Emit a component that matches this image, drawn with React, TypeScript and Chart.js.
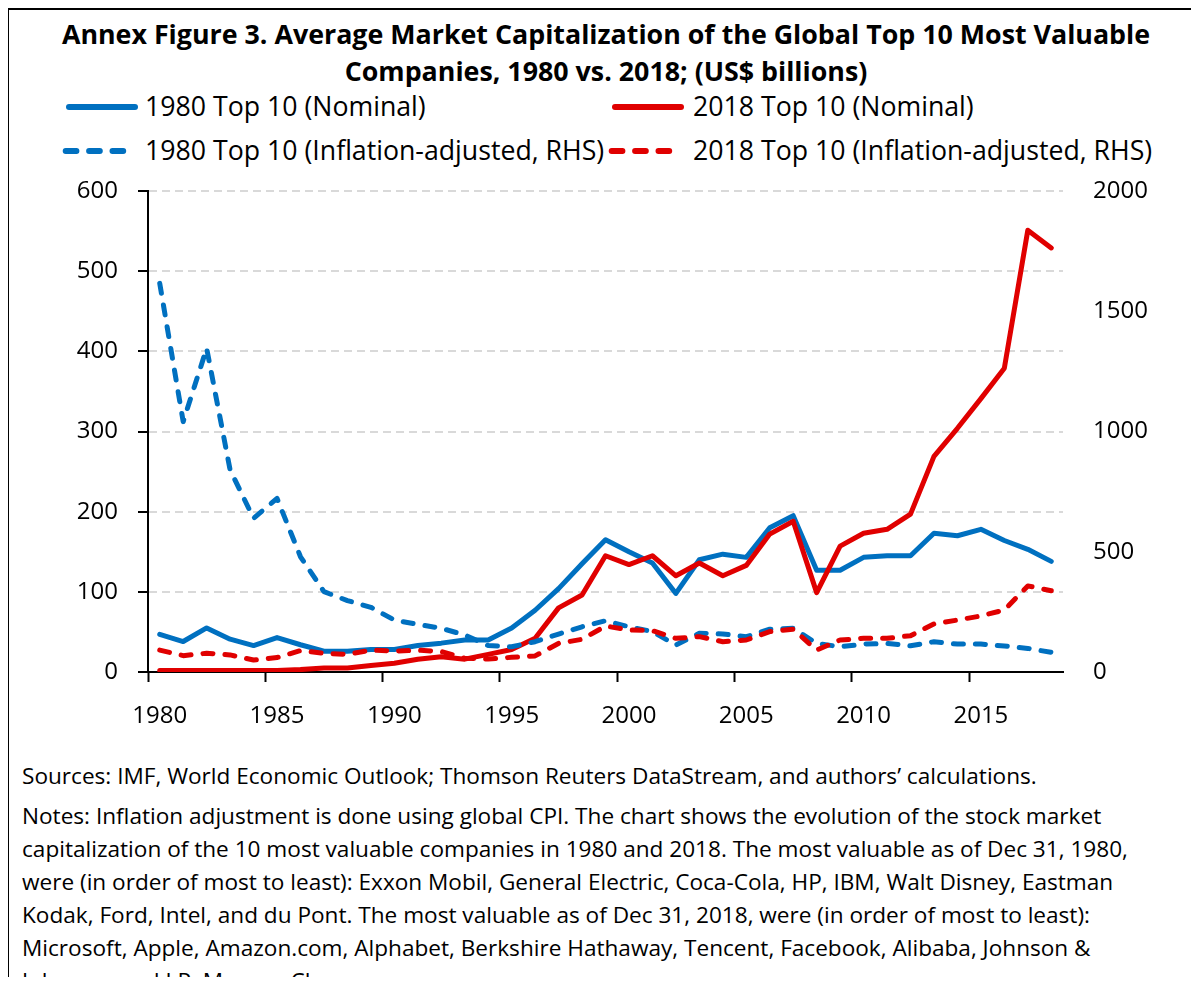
import React, { useEffect, useRef } from "react";
import { Chart, registerables } from "chart.js";

Chart.register(...registerables);

const years = [
  "1980", "1981", "1982", "1983", "1984", "1985", "1986", "1987", "1988", "1989",
  "1990", "1991", "1992", "1993", "1994", "1995", "1996", "1997", "1998", "1999",
  "2000", "2001", "2002", "2003", "2004", "2005", "2006", "2007", "2008", "2009",
  "2010", "2011", "2012", "2013", "2014", "2015", "2016", "2017", "2018",
];

const nominal1980 = [
  47, 38, 55, 41, 33, 43, 34, 26, 26, 28,
  28, 33, 36, 40, 40, 55, 77, 104, 135, 165,
  150, 136, 98, 140, 147, 143, 180, 195, 127, 127,
  143, 145, 145, 173, 170, 178, 164, 153, 138,
];

const nominal2018 = [
  2, 2, 2, 2, 2, 2, 3, 5, 5, 8,
  11, 16, 19, 16, 22, 28, 42, 80, 96, 145,
  134, 145, 120, 136, 120, 133, 172, 188, 99, 157,
  173, 178, 197, 269, 304, 341, 379, 551, 529,
];

const adjusted1980 = [
  1616, 1041, 1346, 840, 639, 722, 479, 334, 297, 269,
  216, 198, 182, 154, 110, 105, 126, 158, 188, 213,
  188, 168, 112, 161, 158, 147, 178, 182, 119, 105,
  116, 119, 109, 126, 116, 116, 108, 98, 82,
];

const adjusted2018 = [
  91, 68, 78, 71, 50, 60, 89, 78, 73, 91,
  87, 91, 85, 57, 54, 61, 67, 119, 136, 191,
  175, 172, 140, 147, 126, 133, 168, 178, 91, 133,
  140, 140, 151, 200, 216, 233, 258, 358, 338,
];

const seriesNames = [
  "1980 Top 10 (Nominal)",
  "2018 Top 10 (Nominal)",
  "1980 Top 10 (Inflation-adjusted, RHS)",
  "2018 Top 10 (Inflation-adjusted, RHS)",
];

const titleLines = [
  "Annex Figure 3. Average Market Capitalization of the Global Top 10 Most Valuable",
  "Companies, 1980 vs. 2018; (US$ billions)",
];

const sourceLine =
  "Sources: IMF, World Economic Outlook; Thomson Reuters DataStream, and authors\u2019 calculations.";

const noteLines = [
  "Notes: Inflation adjustment is done using global CPI. The chart shows the evolution of the stock market",
  "capitalization of the 10 most valuable companies in 1980 and 2018. The most valuable as of Dec 31, 1980,",
  "were (in order of most to least): Exxon Mobil, General Electric, Coca-Cola, HP, IBM, Walt Disney, Eastman",
  "Kodak, Ford, Intel, and du Pont. The most valuable as of Dec 31, 2018, were (in order of most to least):",
  "Microsoft, Apple, Amazon.com, Alphabet, Berkshire Hathaway, Tencent, Facebook, Alibaba, Johnson &",
  "Johnson, and J.P. Morgan Chase.",
];

const BLUE = "#0070C0";
const RED = "#E00000";
const FONT = "'Open Sans', 'Noto Sans', sans-serif";
const TICK_SIZE = 24;

function LegendSample({ x, y, color, dashed }: { x: number; y: number; color: string; dashed: boolean }) {
  return (
    <svg
      width={80}
      height={12}
      style={{ position: "absolute", left: x, top: y - 6, overflow: "visible" }}
    >
      {dashed ? (
        <line x1={2.7} y1={6} x2={60.2} y2={6} stroke={color} strokeWidth={6}
          strokeLinecap="round" strokeDasharray="10.7 12.7" />
      ) : (
        <line x1={3} y1={6} x2={69} y2={6} stroke={color} strokeWidth={6} strokeLinecap="round" />
      )}
    </svg>
  );
}

const noPad = (scale: any) => {
  scale.paddingTop = 0;
  scale.paddingBottom = 0;
};

export default function App() {
  const canvasRef = useRef<HTMLCanvasElement>(null);

  useEffect(() => {
    document.documentElement.style.overflow = "hidden";
    const canvas = canvasRef.current;
    if (!canvas) return;
    const chart = new Chart(canvas, {
      type: "line",
      data: {
        labels: years,
        datasets: [
          {
            label: seriesNames[0],
            data: nominal1980,
            yAxisID: "y",
            borderColor: BLUE,
            backgroundColor: BLUE,
            borderWidth: 5,
            pointRadius: 0,
            tension: 0,
            borderJoinStyle: "round",
            borderCapStyle: "round",
            order: 4,
          },
          {
            label: seriesNames[1],
            data: nominal2018,
            yAxisID: "y",
            borderColor: RED,
            backgroundColor: RED,
            borderWidth: 5,
            pointRadius: 0,
            tension: 0,
            borderJoinStyle: "round",
            borderCapStyle: "round",
            order: 3,
          },
          {
            label: seriesNames[2],
            data: adjusted1980,
            yAxisID: "y1",
            borderColor: BLUE,
            backgroundColor: BLUE,
            borderWidth: 5,
            borderDash: [10, 12],
            pointRadius: 0,
            tension: 0,
            borderJoinStyle: "round",
            borderCapStyle: "round",
            order: 2,
          },
          {
            label: seriesNames[3],
            data: adjusted2018,
            yAxisID: "y1",
            borderColor: RED,
            backgroundColor: RED,
            borderWidth: 5,
            borderDash: [10, 12],
            pointRadius: 0,
            tension: 0,
            borderJoinStyle: "round",
            borderCapStyle: "round",
            order: 1,
          },
        ],
      },
      options: {
        responsive: false,
        maintainAspectRatio: false,
        animation: false,
        devicePixelRatio: 1,
        layout: { padding: { top: 16, left: 0, right: 0, bottom: 0 } },
        plugins: {
          legend: { display: false },
          title: { display: false },
          tooltip: { enabled: false },
        },
        scales: {
          x: {
            type: "category",
            offset: true,
            grid: {
              offset: true,
              drawOnChartArea: false,
              drawTicks: true,
              tickLength: 10,
              tickWidth: 2,
              tickColor: (ctx: any) =>
                ctx.index !== undefined && ctx.index % 5 === 0 ? "#000" : "rgba(0,0,0,0)",
            },
            border: { display: true, color: "#000", width: 2 },
            ticks: {
              autoSkip: false,
              maxRotation: 0,
              minRotation: 0,
              padding: 20,
              color: "#000",
              font: { family: FONT, size: TICK_SIZE },
              callback: (_v: any, i: number) => (Number(years[i]) % 5 === 0 ? years[i] : ""),
            },
            afterFit: (scale: any) => {
              scale.height = 58;
            },
          },
          y: {
            position: "left",
            min: 0,
            max: 600,
            grid: {
              color: (ctx: any) => (ctx.tick && ctx.tick.value === 0 ? "rgba(0,0,0,0)" : "#d9d9d9"),
              lineWidth: 2,
              drawTicks: true,
              tickLength: 10,
              tickWidth: 2,
              tickColor: "#000",
            },
            border: { display: true, color: "#000", width: 2, dash: [8, 5] },
            ticks: {
              stepSize: 100,
              padding: 20,
              color: "#000",
              font: { family: FONT, size: TICK_SIZE },
              callback: (v: any) => String(v),
            },
            afterFit: (scale: any) => {
              scale.width = 140;
              noPad(scale);
            },
          },
          y1: {
            position: "right",
            min: 0,
            max: 2000,
            grid: { display: false, drawOnChartArea: false, drawTicks: false },
            border: { display: false },
            ticks: {
              stepSize: 500,
              padding: 30,
              color: "#000",
              font: { family: FONT, size: TICK_SIZE },
              callback: (v: any) => String(v),
            },
            afterFit: (scale: any) => {
              scale.width = 136;
              noPad(scale);
            },
          },
        },
      },
    } as any);
    return () => chart.destroy();
  }, []);

  const textBase: React.CSSProperties = {
    position: "absolute",
    whiteSpace: "nowrap",
    fontFamily: FONT,
    color: "#000",
  };

  const legendText: React.CSSProperties = { ...textBase, fontSize: 26.7, lineHeight: "34px" };

  // container is at page (8, 8)
  return (
    <div
      style={{
        position: "relative",
        width: 1191,
        height: 977,
        marginBottom: -8,
        overflow: "hidden",
        background: "#fff",
      }}
    >
      <div style={{ position: "absolute", left: -1, top: 0, width: 1192, height: 2, background: "#000" }} />
      <div style={{ position: "absolute", left: -1, top: 0, width: 2, height: 977, background: "#000" }} />

      <div
        style={{
          ...textBase,
          left: 2.5,
          width: 1191,
          top: 6.5,
          textAlign: "center",
          fontWeight: 700,
          fontSize: 26.8,
          lineHeight: "37px",
        }}
      >
        <div>{titleLines[0]}</div>
        <div>{titleLines[1]}</div>
      </div>

      <LegendSample x={58} y={98.5} color={BLUE} dashed={false} />
      <div style={{ ...legendText, left: 137, top: 98 - 17 }}>{seriesNames[0]}</div>
      <LegendSample x={604} y={98.5} color={RED} dashed={false} />
      <div style={{ ...legendText, left: 685, top: 98 - 17 }}>{seriesNames[1]}</div>

      <LegendSample x={55} y={142.5} color={BLUE} dashed={true} />
      <div style={{ ...legendText, left: 137, top: 142 - 17 }}>{seriesNames[2]}</div>
      <LegendSample x={601} y={142.5} color={RED} dashed={true} />
      <div style={{ ...legendText, left: 685, top: 142 - 17 }}>{seriesNames[3]}</div>

      <canvas
        ref={canvasRef}
        width={1191}
        height={555}
        style={{ position: "absolute", left: 0, top: 167, width: 1191, height: 555, display: "block" }}
      />

      <div style={{ ...textBase, left: 14, top: 767 - 16.5, fontSize: 22.6, lineHeight: "33px" }}>{sourceLine}</div>
      <div style={{ ...textBase, left: 14, top: 807 - 16.5, fontSize: 22.6, lineHeight: "33px" }}>
        {noteLines.map((l, i) => (
          <div key={i}>{l}</div>
        ))}
      </div>
    </div>
  );
}
